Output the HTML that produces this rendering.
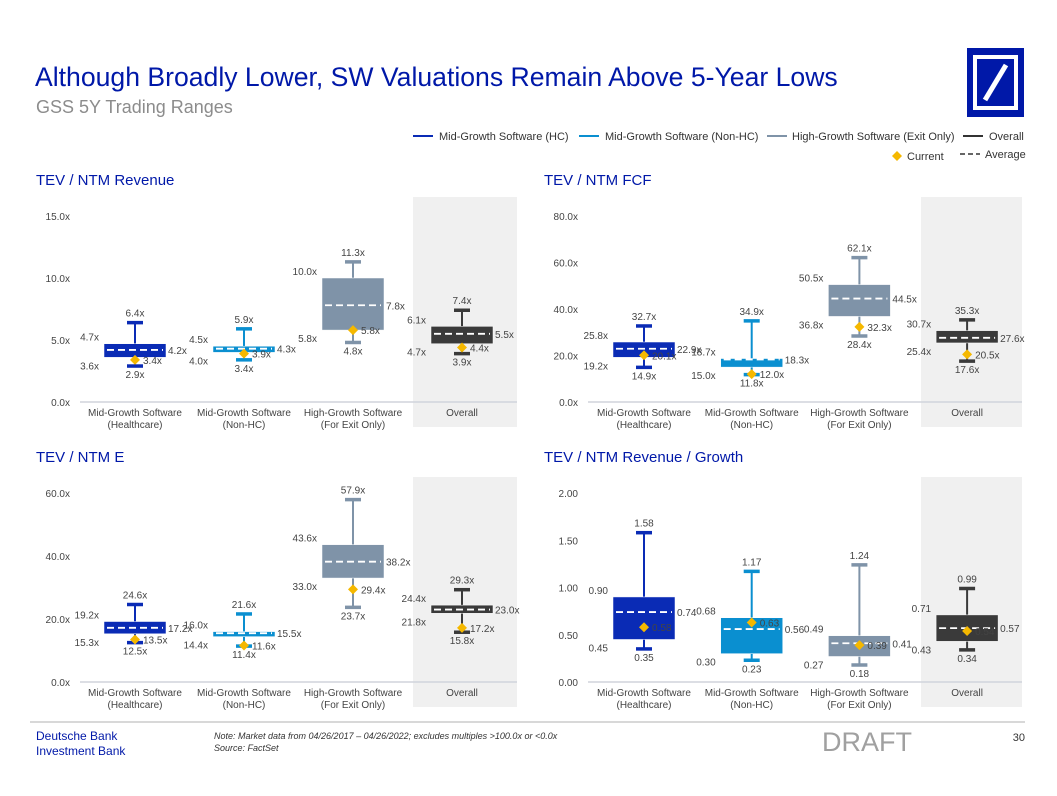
<!DOCTYPE html>
<html><head><meta charset="utf-8">
<style>
body{margin:0;background:#fff;font-family:"Liberation Sans",Arial,sans-serif;}
#root{position:relative;width:1057px;height:796px;overflow:hidden;}
svg text{font-family:"Liberation Sans",Arial,sans-serif;}
</style></head>
<body>
<div id="root">
<svg id="svg" width="1057" height="796" xmlns="http://www.w3.org/2000/svg">
  <text x="35" y="86" font-size="26.6" fill="#0018A8">Although Broadly Lower, SW Valuations Remain Above 5-Year Lows</text>
  <text x="36" y="113" font-size="18" fill="#8c8c8c">GSS 5Y Trading Ranges</text>
  <g>
    <rect x="967" y="48" width="57" height="69" fill="#0018A8"/>
    <rect x="975" y="57" width="41" height="51" fill="none" stroke="#fff" stroke-width="4"/>
    <line x1="985" y1="100" x2="1006" y2="65" stroke="#fff" stroke-width="5"/>
  </g>
  <g font-size="11" fill="#333">
    <line x1="413" y1="136" x2="433" y2="136" stroke="#0a2bb5" stroke-width="2"/>
    <text x="439" y="140">Mid-Growth Software (HC)</text>
    <line x1="579" y1="136" x2="599" y2="136" stroke="#0a8fd0" stroke-width="2"/>
    <text x="605" y="140">Mid-Growth Software (Non-HC)</text>
    <line x1="767" y1="136" x2="787" y2="136" stroke="#7f93a8" stroke-width="2"/>
    <text x="792" y="140">High-Growth Software (Exit Only)</text>
    <line x1="963" y1="136" x2="983" y2="136" stroke="#333" stroke-width="2"/>
    <text x="989" y="140">Overall</text>
    <path d="M897 151 L902 156 L897 161 L892 156 Z" fill="#f5b800"/>
    <text x="907" y="160">Current</text>
    <line x1="960" y1="154" x2="980" y2="154" stroke="#333" stroke-width="1.5" stroke-dasharray="5,3"/>
    <text x="985" y="158">Average</text>
  </g>
  <g id="charts"></g>
  <line x1="30" y1="722" x2="1025" y2="722" stroke="#b0b0b0" stroke-width="1"/>
  <text x="36" y="740" font-size="12" fill="#0018A8">Deutsche Bank</text>
  <text x="36" y="755" font-size="12" fill="#0018A8">Investment Bank</text>
  <text x="214" y="739" font-size="9" font-style="italic" fill="#333">Note: Market data from 04/26/2017 – 04/26/2022; excludes multiples &gt;100.0x or &lt;0.0x</text>
  <text x="214" y="751" font-size="9" font-style="italic" fill="#333">Source: FactSet</text>
  <text x="822" y="751" font-size="27" fill="#a0a0a0">DRAFT</text>
  <text x="1025" y="741" font-size="11" fill="#333" text-anchor="end">30</text>
</svg>
</div>
<script>
const categories = ["Mid-Growth Software|(Healthcare)","Mid-Growth Software|(Non-HC)","High-Growth Software|(For Exit Only)","Overall"];
const colors = ["#0a2bb5","#0a8fd0","#7f93a8","#3a3a3a"];
// panel 1: TEV / NTM Revenue
const revMax=[6.4,5.9,11.3,7.4], revQ3=[4.7,4.5,10.0,6.1], revAvg=[4.2,4.3,7.8,5.5], revQ1=[3.6,4.0,5.8,4.7], revMin=[2.9,3.4,4.8,3.9], revCur=[3.4,3.9,5.8,4.4];
const revTicks=[0,5,10,15];
// panel 2: TEV / NTM FCF
const fcfMax=[32.7,34.9,62.1,35.3], fcfQ3=[25.8,18.7,50.5,30.7], fcfAvg=[22.9,18.3,44.5,27.6], fcfQ1=[19.2,15.0,36.8,25.4], fcfMin=[14.9,11.8,28.4,17.6], fcfCur=[20.1,12.0,32.3,20.5];
const fcfTicks=[0,20,40,60,80];
// panel 3: TEV / NTM E
const eMax=[24.6,21.6,57.9,29.3], eQ3=[19.2,16.0,43.6,24.4], eAvg=[17.2,15.5,38.2,23.0], eQ1=[15.3,14.4,33.0,21.8], eMin=[12.5,11.4,23.7,15.8], eCur=[13.5,11.6,29.4,17.2];
const eTicks=[0,20,40,60];
// panel 4: TEV / NTM Revenue / Growth
const gMax=[1.58,1.17,1.24,0.99], gQ3=[0.90,0.68,0.49,0.71], gAvg=[0.74,0.56,0.41,0.57], gQ1=[0.45,0.30,0.27,0.43], gMin=[0.35,0.23,0.18,0.34], gCur=[0.58,0.63,0.39,0.54];
const gTicks=[0,0.5,1.0,1.5,2.0];

const NS="http://www.w3.org/2000/svg";
const host=document.getElementById('charts');
function mk(tag,attrs,parent,txt){const e=document.createElementNS(NS,tag);for(const k in attrs)e.setAttribute(k,attrs[k]);if(txt!==undefined)e.textContent=txt;parent.appendChild(e);return e;}

function panel(o){
  const g=mk('g',{},host);
  
  
  const t=mk('text',{x:o.x0+6,y:o.titleY,'font-size':15,fill:'#0018A8'},g,o.title);
  
  
  const tmax=o.ticks[o.ticks.length-1];
  const y=v=>o.base-(v/tmax)*(o.base-o.top);
  const cx=i=>o.cx0+i*o.step;
  const band=mk('rect',{x:o.bandX,y:o.base-205,width:o.plotR-o.bandX,height:230,fill:'#f0f0f0'},g);
  
  
  o.ticks.forEach(v=>{
    const tl=mk('text',{x:o.axisX,y:y(v)+4,'font-size':10,fill:'#444','text-anchor':'end'},g,v.toFixed(o.dec)+o.suf);
    
    
  });
  const bl=mk('line',{x1:o.axisX+10,y1:o.base,x2:o.plotR,y2:o.base,stroke:'#d0d4dc','stroke-width':1.5},g);
  
  
  const fmt=v=>v.toFixed(o.dec==0?1:o.dec)+o.suf;
  categories.forEach((c,i)=>{
    const x=cx(i), col=colors[i], hw=31;
    const parts=c.split('|');
    const cl=mk('text',{x:x,y:o.base+14,'font-size':10,fill:'#444','text-anchor':'middle'},g,parts[0]);
    
    
    if(parts[1]){const c2=mk('text',{x:x,y:o.base+26,'font-size':10,fill:'#444','text-anchor':'middle'},g,parts[1]);
      
      }
    const bg=mk('g',{},g);
    
    
    const vmax=o.max[i],vq3=o.q3[i],vavg=o.avg[i],vq1=o.q1[i],vmin=o.min[i],vcur=o.cur[i];
    mk('line',{x1:x,y1:y(vmax),x2:x,y2:y(vmin),stroke:col,'stroke-width':2},bg);
    mk('line',{x1:x-8,y1:y(vmax),x2:x+8,y2:y(vmax),stroke:col,'stroke-width':3.5},bg);
    mk('line',{x1:x-8,y1:y(vmin),x2:x+8,y2:y(vmin),stroke:col,'stroke-width':3.5},bg);
    const top=Math.max(vq3,vq1),bot=Math.min(vq3,vq1);
    mk('rect',{x:x-hw,y:y(top),width:hw*2,height:Math.max(2,y(bot)-y(top)),fill:col,stroke:'#fff','stroke-width':0.5},bg);
    mk('line',{x1:x-hw+3,y1:y(vavg),x2:x+hw-3,y2:y(vavg),stroke:'#fff','stroke-width':1.8,'stroke-dasharray':'7,4'},bg);
    const yc=y(vcur);
    const d=mk('path',{d:`M${x} ${yc-5} L${x+5} ${yc} L${x} ${yc+5} L${x-5} ${yc} Z`,fill:'#f5b800'},bg);
    
    
    const lab=(tx,ty,s,anc)=>{const e=mk('text',{x:tx,y:ty,'font-size':10,fill:'#444','text-anchor':anc},bg,s);
      
      };
    lab(x,y(vmax)-6,fmt(vmax),'middle');
    lab(x-36,y(top)-3,fmt(vq3),'end');
    lab(x+33,y(vavg)+4,fmt(vavg),'start');
    lab(x-36,y(bot)+12,fmt(vq1),'end');
    lab(x,y(vmin)+12,fmt(vmin),'middle');
    lab(x+8,yc+4,fmt(vcur),'start');
  });
}
panel({name:'tev-ntm-revenue-chart',title:'TEV / NTM Revenue',x0:30,titleY:185,base:402,top:216,axisX:70,plotR:517,bandX:413,cx0:135,step:109,ticks:revTicks,dec:1,suf:'x',max:revMax,q3:revQ3,avg:revAvg,q1:revQ1,min:revMin,cur:revCur});
panel({name:'tev-ntm-fcf-chart',title:'TEV / NTM FCF',x0:538,titleY:185,base:402,top:216,axisX:578,plotR:1022,bandX:921,cx0:644,step:107.7,ticks:fcfTicks,dec:1,suf:'x',max:fcfMax,q3:fcfQ3,avg:fcfAvg,q1:fcfQ1,min:fcfMin,cur:fcfCur});
panel({name:'tev-ntm-e-chart',title:'TEV / NTM E',x0:30,titleY:462,base:682,top:493,axisX:70,plotR:517,bandX:413,cx0:135,step:109,ticks:eTicks,dec:1,suf:'x',max:eMax,q3:eQ3,avg:eAvg,q1:eQ1,min:eMin,cur:eCur});
panel({name:'tev-ntm-revenue-growth-chart',title:'TEV / NTM Revenue / Growth',x0:538,titleY:462,base:682,top:493,axisX:578,plotR:1022,bandX:921,cx0:644,step:107.7,ticks:gTicks,dec:2,suf:'',max:gMax,q3:gQ3,avg:gAvg,q1:gQ1,min:gMin,cur:gCur});
</script>
</body></html>
